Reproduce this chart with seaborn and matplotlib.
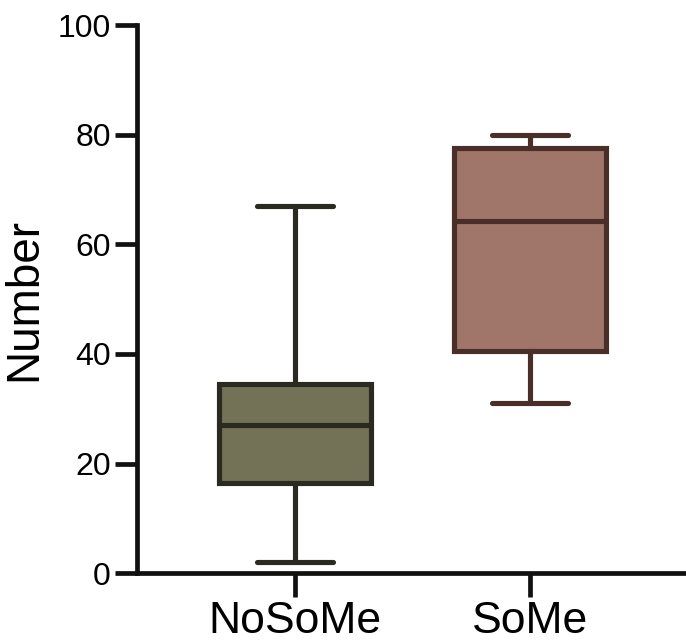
import numpy as np
import pandas as pd
import seaborn as sns
import matplotlib.pyplot as plt

groups = ["NoSoMe", "SoMe"]
# five-number summaries: min, Q1, median, Q3, max
nosome_vals = [2, 16.5, 27, 34.6, 67]
some_vals = [31, 40.5, 64.2, 77.6, 80]
fill_colors = ["#737257", "#a0756a"]
edge_colors = ["#2b2a20", "#4a2f28"]

df = pd.DataFrame({
    "group": [groups[0]] * len(nosome_vals) + [groups[1]] * len(some_vals),
    "Number": nosome_vals + some_vals,
})

sns.set_style("ticks")
plt.rcParams['font.family'] = ['Liberation Sans', 'DejaVu Sans']
plt.rcParams['text.color'] = 'black'
plt.rcParams['axes.labelcolor'] = 'black'
plt.rcParams['xtick.labelcolor'] = 'black'
plt.rcParams['ytick.labelcolor'] = 'black'

fig = plt.figure(figsize=(6.86, 6.44), dpi=100)
ax = fig.add_axes([0.2, 0.11, 0.80, 0.851])

lw = 3.7
sns.boxplot(data=df, x="group", y="Number", hue="group", order=groups,
            palette=fill_colors, saturation=1, width=0.65, whis=(0, 100),
            linewidth=lw, legend=False, ax=ax)

for cont, ec in zip(ax.containers, edge_colors):
    for b in cont.boxes:
        b.set_edgecolor(ec)
        b.set_linewidth(lw)
    for ln in list(cont.whiskers) + list(cont.caps) + list(cont.medians):
        ln.set_color(ec)
        ln.set_linewidth(lw)
        ln.set_solid_capstyle("round")

ax.set_ylim(0, 100)
ax.set_xlim(-0.672, 1.664)
ax.set_yticks([0, 20, 40, 60, 80, 100])
ax.set_xlabel("")
ax.set_ylabel("Number", fontsize=33, labelpad=8)
ax.tick_params(axis="y", labelsize=23, length=16, width=3.4, pad=3, color="#111111")
ax.tick_params(axis="x", labelsize=32, length=17, width=3.4, pad=3, color="#111111")
sns.despine(ax=ax)
for side in ["left", "bottom"]:
    ax.spines[side].set_linewidth(3.4)
    ax.spines[side].set_color("#111111")

plt.savefig("out.png", dpi=100)
